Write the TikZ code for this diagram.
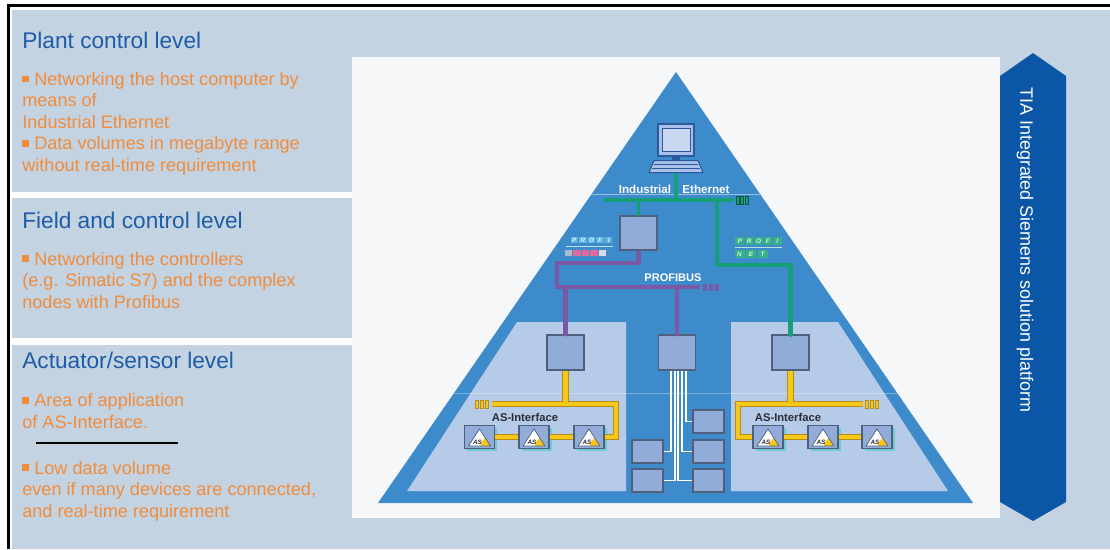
\documentclass[tikz,border=0pt]{standalone}
\usepackage{fontspec}
\setmainfont{Liberation Sans}
\usepackage{xcolor}
\usetikzlibrary{positioning, calc, shadows}

\definecolor{pagebg}{HTML}{C3D3E2}
\definecolor{panelwhite}{HTML}{F5F7F9}
\definecolor{titleblue}{HTML}{1F5CA8}
\definecolor{noteorange}{HTML}{F08C3C}
\definecolor{tiablue}{HTML}{0B56A6}
\definecolor{pyrblue}{HTML}{3E8BCB}
\definecolor{levelfill}{HTML}{B6CBE8}
\definecolor{devfill}{HTML}{92ACD9}
\definecolor{devline}{HTML}{4F5F7C}
\definecolor{pcfill}{HTML}{A9C1EA}
\definecolor{pcscreen}{HTML}{C9D7F1}
\definecolor{pcline}{HTML}{2C5A98}
\definecolor{ethgreen}{HTML}{169E78}
\definecolor{busviolet}{HTML}{7A58A6}
\definecolor{asyellow}{HTML}{F6C81C}
\definecolor{asedge}{HTML}{B88C14}
\definecolor{ascyan}{HTML}{6CCBD6}
\definecolor{asdark}{HTML}{2B2D3A}
\definecolor{pbcyan}{HTML}{5BB6E4}
\definecolor{pbpink}{HTML}{E06A9A}
\definecolor{pbgrey}{HTML}{AEB9CC}

% small square in front of each note
\newcommand{\sqitem}{\rule[1.7pt]{4pt}{3.8pt}\hspace{2.8pt}}

\begin{document}
\begin{tikzpicture}[
    x=0.02cm, y=-0.02cm,
    title/.style={anchor=base west, inner sep=0, font=\fontsize{12.9}{15}\selectfont, text=titleblue},
    % notes are placed by the baseline of their last line
    note/.style={anchor=base west, inner sep=0, align=left, font=\fontsize{10.3}{12.2}\selectfont, text=noteorange},
    dev/.style={draw=devline, fill=devfill, line width=0.6pt, inner sep=0},
    ctrl/.style={dev, minimum width=0.74cm, minimum height=0.70cm},
    iobox/.style={dev, minimum width=0.62cm, minimum height=0.46cm},
    slave/.style={dev, minimum width=0.60cm, minimum height=0.46cm,
        drop shadow={shadow xshift=1.6pt, shadow yshift=-1.6pt, fill=ascyan, opacity=1}},
    netlabel/.style={anchor=base, inner sep=0, font=\fontsize{6.6}{7}\selectfont\bfseries, text=white},
    aslabel/.style={anchor=base, inner sep=0, font=\fontsize{6.4}{7}\selectfont\bfseries, text=asdark},
    logoletter/.style={inner sep=0, font=\fontsize{3.6}{4}\selectfont\bfseries\itshape},
    ethline/.style={draw=ethgreen, line width=2.8pt},
    pbline/.style={draw=busviolet, line width=2.3pt},
    asline/.style={draw=asyellow, line width=2.6pt, preaction={draw=asedge, line width=3.8pt}},
    ioline/.style={draw=white, line width=0.6pt},
]
    \useasboundingbox (0,0) rectangle (1110,549);

    % page, frame and panels
    \fill[white] (0,0) rectangle (1110,549);
    \fill[pagebg] (12,10) rectangle (1110,549);
    \draw[line width=1.2pt] (8.5,549) -- (8.5,5.5) -- (1110,5.5);
    \fill[panelwhite] (352,57) rectangle (1000,518);
    \fill[white] (12,192) rectangle (352,197.5);
    \fill[white] (12,338) rectangle (352,344.5);

    % level descriptions
    \node[title] (plant) at (22,48) {Plant control level};
    \node[note] (plantnote) at (22,171) {\sqitem Networking the host computer by\\means of\\Industrial Ethernet\\\sqitem Data volumes in megabyte range\\without real-time requirement};
    \node[title] (field) at (22,228) {Field and control level};
    \node[note] (fieldnote) at (22,308) {\sqitem Networking the controllers\\(e.g. Simatic S7) and the complex\\nodes with Profibus};
    \node[title] (sensor) at (22,368) {Actuator/sensor level};
    \node[note] (sensornote) at (22,428) {\sqitem Area of application\\of AS-Interface.};
    \draw[line width=1.2pt] (36,443) -- (178,443);
    \node[note] (datanote) at (22,517) {\sqitem Low data volume\\even if many devices are connected,\\and real-time requirement};

    % TIA banner
    \fill[tiablue] (1000,76) -- (1033,53) -- (1066,76) -- (1066,502) -- (1033,521) -- (1000,502) -- cycle;
    \node[rotate=-90, anchor=west, inner sep=0, text=white, font=\fontsize{10.2}{12}\selectfont] (tia) at (1025,87) {TIA Integrated Siemens solution platform};

    % pyramid with the two lower level areas
    \fill[pyrblue] (676,72) -- (973,503) -- (378,503) -- cycle;
    \begin{scope}
        \clip (676,72) -- (973,503) -- (378,503) -- cycle;
        \draw[pyrblue!55!white, line width=0.5pt] (370,194) -- (980,194);
    \end{scope}
    \fill[levelfill] (407,491) -- (517,322) -- (626,322) -- (626,491) -- cycle;
    \fill[levelfill] (731,322) -- (838,322) -- (948,491) -- (731,491) -- cycle;
    \begin{scope}
        \clip (676,72) -- (973,503) -- (378,503) -- cycle;
        \draw[white, opacity=0.3, line width=0.5pt] (370,393) -- (980,393);
    \end{scope}

    % host computer
    \node[draw=pcline, fill=pcfill, line width=0.8pt, minimum width=0.72cm, minimum height=0.64cm, inner sep=0] (pc) at (676,140) {};
    \node[draw=pcline, fill=pcscreen, line width=0.4pt, minimum width=0.56cm, minimum height=0.46cm, inner sep=0] (pcscreen) at (pc.center) {};
    \fill[pcline] ($(pc.south)+(-4,0)$) rectangle ($(pc.south)+(4,4)$);
    \filldraw[fill=pcfill, draw=pcline, line width=0.6pt] ($(pc.south)+(-22,4)$) -- ($(pc.south)+(22,4)$) -- ($(pc.south)+(27,16)$) -- ($(pc.south)+(-27,16)$) -- cycle;
    \draw[pcline, line width=0.3pt] ($(pc.south)+(-22,8)$) -- ($(pc.south)+(22,8)$);
    \draw[pcline, line width=0.3pt] ($(pc.south)+(-24,12)$) -- ($(pc.south)+(24,12)$);
    \coordinate (pcfoot) at ($(pc.south)+(0,16)$);

    % controllers
    \node[ctrl, minimum height=0.68cm] (ctop) at (638.5,233) {};
    \node[ctrl] (cl) at (565.5,352.5) {};
    \node[ctrl] (cm) at (677,352.5) {};
    \node[ctrl] (cr) at (790.5,352.5) {};

    % field devices below the middle controller
    \node[iobox] (r1) at (708.5,421.5) {};
    \node[iobox] (r2) at (708.5,451.5) {};
    \node[iobox] (r3) at (708.5,480.5) {};
    \node[iobox] (l1) at (647.5,451.5) {};
    \node[iobox] (l2) at (647.5,480.5) {};
    \draw[ioline] ($(cm.south)+(9,0)$) |- (r1.west);
    \draw[ioline] ($(cm.south)+(5,0)$) |- (r2.west);
    \draw[ioline] ($(cm.south)+(1,0)$) |- (r3.west);
    \draw[ioline] ($(cm.south)+(-2,0)$) |- (l2.east);
    \draw[ioline] ($(cm.south)+(-6,0)$) |- (l1.east);

    % AS-i slaves
    \node[slave] (asl1) at (479.5,437) {};
    \node[slave] (asl2) at (534,437) {};
    \node[slave] (asl3) at (589,437) {};
    \node[slave] (asr1) at (768,437) {};
    \node[slave] (asr2) at (823,437) {};
    \node[slave] (asr3) at (877,437) {};
    \foreach \s in {asl1,asl2,asl3,asr1,asr2,asr3} {
        \fill[white] ($(\s.south)+(-11,-3)$) -- ($(\s.south)+(11,-3)$) -- ($(\s.north)+(0,4)$) -- cycle;
        \fill[asyellow] ($(\s.south)+(1,-3)$) -- ($(\s.south)+(11,-3)$) -- ($(\s.south)+(5.5,-11)$) -- ($(\s.south)+(1,-6)$) -- cycle;
        \draw[devline, line width=0.4pt] ($(\s.south)+(-11,-3)$) -- ($(\s.south)+(11,-3)$) -- ($(\s.north)+(0,4)$) -- cycle;
        \node[logoletter, text=asdark] (\s-logo) at ($(\s.south)+(-2,-7)$) {AS};
    }

    % Industrial Ethernet
    \coordinate (ethL) at (604,200);
    \coordinate (ethR) at (734,200);
    \coordinate (ethtap) at (717,200);
    \draw[ethline] (ethL) -- (ethR);
    \draw[ethline] (pcfoot) -- (pcfoot |- ethL);
    \draw[ethline, line width=1.8pt, line cap=round] (ctop.north |- ethL) -- (ctop.north);
    \draw[ethline, line cap=round] (ethtap) -- ++(0,65) -| (cr.north);
    \foreach \x in {737.5,742,746.5}
        \filldraw[fill=ethgreen, draw=ethgreen!55!black, line width=0.3pt] (\x-1.5,196) rectangle (\x+1.5,204);
    \node[netlabel] (ielabel) at (645,193) {Industrial};
    \node[netlabel] (ethlabel) at (706,193) {Ethernet};

    % PROFINET logo
    \foreach \l [count=\i] in {P,R,O,F,I}
        \node[fill=ethgreen!85!white, minimum width=0.17cm, minimum height=0.15cm, logoletter, text=green!20!white] (pn\i) at (735+9.4*\i-4.7,241) {\l};
    \draw[white!70!ethgreen, line width=0.4pt] (735,247.5) -- (782,247.5);
    \foreach \l [count=\i] in {N,E,T}
        \node[fill=ethgreen!85!white, minimum width=0.20cm, minimum height=0.15cm, logoletter, text=green!20!white] (pnet\i) at (733+11.5*\i-5,254) {\l};

    % PROFIBUS
    \coordinate (pbL) at (557,287);
    \coordinate (pbR) at (700,287);
    \draw[pbline] (ctop.south) |- ($(pbL)+(0,-24)$) -- (pbL) -- (pbR);
    \draw[pbline, line cap=round] (cl.north |- pbL) -- (cl.north);
    \draw[pbline, line cap=round] (cm.north |- pbL) -- (cm.north);
    \foreach \x in {705,711,717}
        \fill[busviolet] (\x-2,283.5) rectangle (\x+2,290.5);
    \node[netlabel, font=\fontsize{6.3}{7}\selectfont\bfseries] (pblabel) at (673,281) {PROFIBUS};

    % PROFIBUS logo
    \foreach \l [count=\i] in {P,R,O,F,I}
        \node[fill=pbcyan, minimum width=0.15cm, minimum height=0.12cm, logoletter, text=white!80!pbcyan] (pb\i) at (570+8.6*\i-4.3,240) {\l};
    \draw[white!60!pbcyan, line width=0.4pt] (566,246) -- (613,246);
    \foreach \c [count=\i] in {pbgrey,pbpink,pbpink,pbpink,pbgrey!50!white}
        \node[fill=\c, minimum width=0.15cm, minimum height=0.12cm, inner sep=0] (pbb\i) at (564+8.6*\i-4.3,253) {};

    % AS-Interface lines
    \coordinate (asLa) at (492,404);
    \coordinate (asLb) at (616,404);
    \coordinate (asRa) at (738,404);
    \coordinate (asRb) at (863,404);
    \draw[asline] (cl.south) -- (cl.south |- asLa)
        (asLa) -- (asLb) |- (asl3.east)
        (asl1.east) -- (asl2.west) (asl2.east) -- (asl3.west)
        (cr.south) -- (cr.south |- asRa)
        (asRb) -- (asRa) |- (asr1.west)
        (asr1.east) -- (asr2.west) (asr2.east) -- (asr3.west);
    \foreach \x in {477,482,487,867,872,877}
        \filldraw[fill=asyellow, draw=asedge, line width=0.3pt] (\x-1.6,400) rectangle (\x+1.6,408);
    \node[aslabel] (aslleft) at (525,421) {AS-Interface};
    \node[aslabel] (aslright) at (788,421) {AS-Interface};
\end{tikzpicture}
\end{document}
